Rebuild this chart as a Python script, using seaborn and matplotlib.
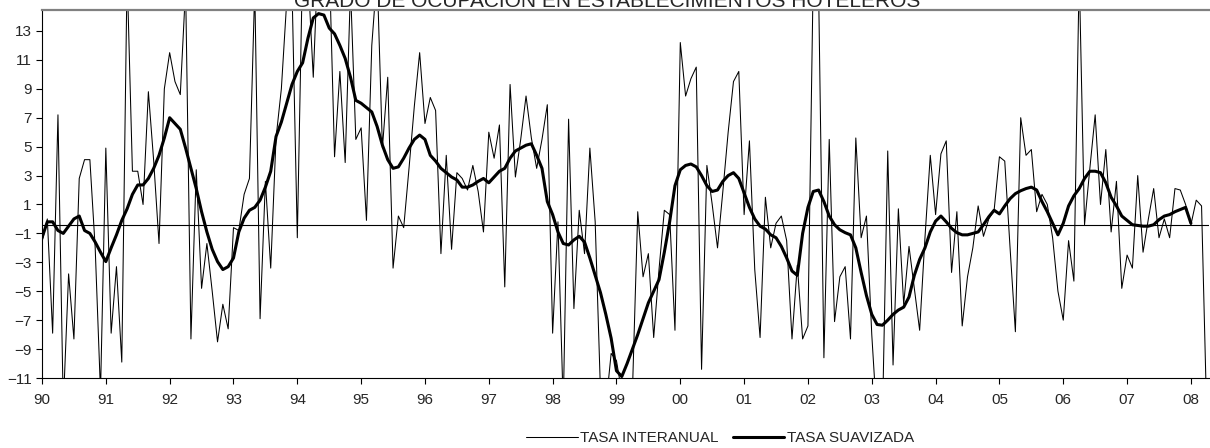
import numpy as np
import seaborn as sns
import matplotlib.pyplot as plt

# monthly series, Jan 1990 onwards
tasa_interanual = [
    -1.6, 0.0, -7.9, 7.2, -13.0, -3.8, -8.3, 2.8, 4.1, 4.1, -2.0, -12.0,
    4.9, -7.9, -3.3, -9.9, 17.0, 3.3, 3.3, 1.0, 8.8, 4.0, -1.7, 9.0,
    11.5, 9.5, 8.6, 16.0, -8.3, 3.4, -4.8, -1.7, -5.0, -8.5, -5.9, -7.6,
    -0.6, -0.8, 1.7, 2.8, 16.0, -6.9, 2.6, -3.4, 5.6, 9.0, 15.0, 16.0,
    -1.3, 18.0, 17.0, 9.8, 19.0, 16.0, 18.0, 4.3, 10.2, 3.9, 16.0, 5.5,
    6.3, -0.1, 12.0, 17.0, 4.9, 9.8, -3.4, 0.2, -0.6, 3.5, 7.8, 11.5,
    6.6, 8.4, 7.5, -2.4, 4.4, -2.1, 3.2, 2.8, 2.0, 3.7, 1.9, -0.9,
    6.0, 4.2, 6.5, -4.7, 9.3, 2.9, 5.5, 8.5, 5.6, 3.5, 5.5, 7.9,
    -7.9, -0.2, -13.0, 6.9, -6.2, 0.6, -2.4, 4.9, -0.2, -12.0, -13.0, -9.3,
    -9.8, -12.0, -13.5, -12.0, 0.5, -4.0, -2.4, -8.2, -3.5, 0.6, 0.3, -7.7,
    12.2, 8.5, 9.7, 10.5, -10.4, 3.7, 1.0, -2.0, 1.9, 6.0, 9.5, 10.2,
    0.3, 5.4, -3.5, -8.2, 1.5, -2.0, -0.3, 0.2, -1.5, -8.3, -3.2, -8.3,
    -7.4, 17.0, 16.0, -9.6, 5.5, -7.1, -4.0, -3.3, -8.3, 5.6, -1.3, 0.2,
    -8.0, -14.0, -14.0, 4.7, -10.1, 0.7, -5.9, -1.9, -4.8, -7.7, -1.3, 4.4,
    0.3, 4.5, 5.4, -3.7, 0.5, -7.4, -4.0, -2.0, 0.9, -1.2, 0.0, 0.6,
    4.3, 4.0, -2.0, -7.8, 7.0, 4.4, 4.8, 0.5, 1.7, 1.0, -1.3, -5.0,
    -7.0, -1.5, -4.3, 17.0, -0.4, 3.5, 7.2, 1.0, 4.8, -0.9, 2.6, -4.8,
    -2.5, -3.4, 3.0, -2.3, 0.0, 2.1, -1.3, 0.0, -1.3, 2.1, 2.0, 1.0,
    -0.4, 1.3, 0.9, -14.0,
]

tasa_suavizada = [
    -1.3, -0.2, -0.2, -0.8, -1.0, -0.5, 0.0, 0.2, -0.8, -1.0, -1.6, -2.3,
    -2.95, -2.0, -1.1, -0.1, 0.7, 1.7, 2.35, 2.35, 2.8, 3.5, 4.4, 5.6,
    7.0, 6.6, 6.2, 4.9, 3.5, 2.1, 0.5, -0.9, -2.1, -2.95, -3.5, -3.3,
    -2.7, -0.9, 0.05, 0.6, 0.8, 1.3, 2.2, 3.3, 5.7, 6.7, 8.0, 9.3,
    10.2, 10.8, 12.5, 13.9, 14.2, 14.1, 13.2, 12.8, 12.0, 11.1, 9.8, 8.2,
    8.0, 7.7, 7.4, 6.4, 5.1, 4.1, 3.5, 3.6, 4.2, 4.9, 5.5, 5.8,
    5.5, 4.4, 4.0, 3.5, 3.2, 2.9, 2.7, 2.2, 2.2, 2.35, 2.6, 2.8,
    2.5, 2.9, 3.3, 3.5, 4.2, 4.7, 4.9, 5.1, 5.2, 4.4, 3.5, 1.2,
    0.3, -0.9, -1.7, -1.8, -1.45, -1.2, -1.6, -2.7, -3.9, -5.1, -6.6, -8.25,
    -10.5, -10.9, -10.0, -9.0, -8.0, -6.9, -5.8, -5.0, -4.2, -2.3, -0.2, 2.3,
    3.4, 3.7, 3.8, 3.6, 3.0, 2.3, 1.9, 2.0, 2.6, 3.0, 3.2, 2.8,
    1.8, 0.8, 0.0, -0.5, -0.7, -1.1, -1.3, -1.9, -2.7, -3.6, -3.9, -1.0,
    0.8, 1.9, 2.0, 1.2, 0.2, -0.4, -0.75, -0.95, -1.1, -2.0, -3.7, -5.3,
    -6.6, -7.3, -7.35, -7.0, -6.6, -6.3, -6.1, -5.4, -3.9, -2.8, -2.0, -0.9,
    -0.15, 0.2, -0.2, -0.65, -0.95, -1.1, -1.1, -1.0, -0.9, -0.4, 0.15, 0.6,
    0.35, 0.9, 1.4, 1.75, 1.95, 2.1, 2.2, 2.0, 1.2, 0.5, -0.3, -1.1,
    -0.3, 0.9, 1.6, 2.1, 2.8, 3.3, 3.3, 3.2, 2.5, 1.5, 0.9, 0.2,
    -0.1, -0.4, -0.45, -0.5, -0.5, -0.4, -0.05, 0.2, 0.3, 0.5, 0.65, 0.8,
    -0.3,
]

years = list(range(1990, 2009))
year_labels = ['90', '91', '92', '93', '94', '95', '96', '97', '98', '99',
               '00', '01', '02', '03', '04', '05', '06', '07', '08']
y_ticks = list(range(-11, 14, 2))
ref_level = -0.4
title = 'GRADO DE OCUPACION EN ESTABLECIMIENTOS HOTELEROS'

sns.set_style('ticks')
plt.rcParams['font.family'] = ['Liberation Sans', 'DejaVu Sans']

x_thin = 1990 + np.arange(len(tasa_interanual)) / 12
x_thick = 1990 + np.arange(len(tasa_suavizada)) / 12

fig = plt.figure(figsize=(12.1, 4.48), dpi=100)
ax = fig.add_axes([42 / 1210, 1 - 378 / 448, 1167 / 1210, 368 / 448])

ax.axhline(ref_level, color='black', lw=0.8, zorder=1)
sns.lineplot(x=x_thin, y=tasa_interanual, ax=ax, color='black', lw=0.75,
             label='TASA INTERANUAL')
sns.lineplot(x=x_thick, y=tasa_suavizada, ax=ax, color='black', lw=2.2,
             label='TASA SUAVIZADA')

ax.set_xlim(1990, 1990 + 219.4 / 12)
ax.set_ylim(-11, 14.45)
ax.set_xticks(years)
ax.set_xticklabels(year_labels)
ax.set_yticks(y_ticks)
ax.tick_params(axis='both', labelsize=11, length=4, width=0.8, color='black')
ax.tick_params(axis='x', pad=7)

for side in ['left', 'bottom']:
    ax.spines[side].set_color('black')
    ax.spines[side].set_linewidth(0.8)
ax.spines['top'].set_color('#808080')
ax.spines['top'].set_linewidth(1.6)
ax.spines['right'].set_visible(False)

ax.legend_.remove()
handles, labels = ax.get_legend_handles_labels()
fig.legend(handles, labels, loc='center', bbox_to_anchor=(0.595, 0.022),
           ncol=2, frameon=False, fontsize=11, handlelength=3.4,
           handletextpad=0.15, columnspacing=0.9)

# the title sits partly above the top edge, as in the original chart
fig.text(0.502, 1 - 7 / 448, title, ha='center', va='baseline', fontsize=15)

fig.savefig('out.png', dpi=100)
